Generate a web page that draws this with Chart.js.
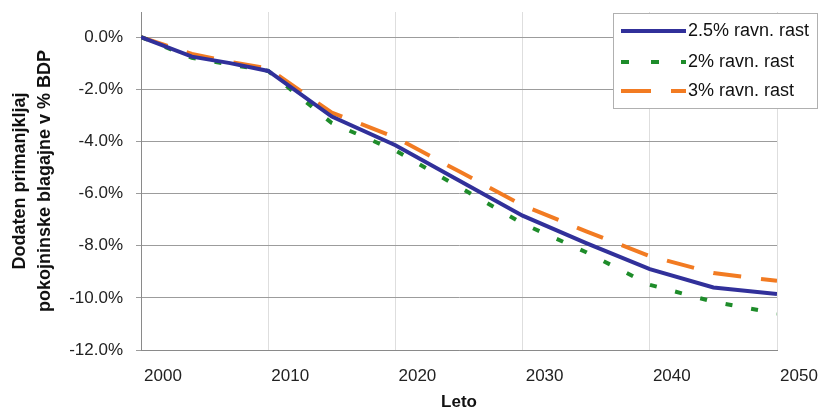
<!DOCTYPE html>
<html>
<head>
<meta charset="utf-8">
<script src="https://cdn.jsdelivr.net/npm/chart.js@4/dist/chart.umd.min.js"></script>
<style>
  html, body { margin: 0; padding: 0; background: #fff; }
  #wrap { width: 822px; height: 413px; }
</style>
</head>
<body>
<div id="wrap"><canvas id="chart" width="822" height="413"></canvas></div>
<script>
// years where the curves bend
const years = [2000, 2004, 2007, 2010, 2015, 2020, 2025, 2030, 2035, 2040, 2045, 2050];
const rast25 = [0, -0.75, -1.0, -1.3, -3.05, -4.15, -5.5, -6.85, -7.9, -8.9, -9.6, -9.85];
const rast2 = [0, -0.8, -1.05, -1.3, -3.3, -4.35, -5.75, -7.15, -8.25, -9.5, -10.15, -10.6];
const rast3 = [0, -0.65, -0.95, -1.2, -2.9, -3.85, -5.15, -6.45, -7.45, -8.4, -9.05, -9.35];
const yTicks = [0, -2, -4, -6, -8, -10, -12];
const seriesNames = ['2.5% ravn. rast', '2% ravn. rast', '3% ravn. rast'];
const yTitle = ['Dodaten primanjkljaj', 'pokojninske blagajne v % BDP'];
const xTitle = 'Leto';

const FONT = '"Liberation Sans", Arial, sans-serif';
const BLUE = '#31309a', GREEN = '#1e8c2a', ORANGE = '#f27b22';
const styles = [
  { color: BLUE, dash: [] },
  { color: GREEN, dash: [7, 19] },
  { color: ORANGE, dash: [28, 20] }
];

function pts(vals){ return years.map((y, i) => ({ x: y, y: vals[i] })); }

const datasets = [rast25, rast2, rast3].map((vals, i) => ({
  label: seriesNames[i],
  data: pts(vals),
  borderColor: styles[i].color,
  borderDash: styles[i].dash,
  borderWidth: 4,
  pointRadius: 0,
  tension: 0,
  fill: false,
  order: i
}));

const boxLegend = {
  id: 'boxLegend',
  afterDraw(chart){
    const ctx = chart.ctx;
    const x0 = 613, y0 = 13, w = 204, h = 95;
    ctx.save();
    ctx.fillStyle = '#fff';
    ctx.fillRect(x0, y0, w, h);
    ctx.strokeStyle = '#b0b0b0';
    ctx.lineWidth = 1;
    ctx.strokeRect(x0 + 0.5, y0 + 0.5, w, h);
    const rows = [31, 62, 91];
    const legDash = [[], [8, 22], [30, 20]];
    rows.forEach((ry, i) => {
      ctx.beginPath();
      ctx.setLineDash(legDash[i]);
      ctx.strokeStyle = styles[i].color;
      ctx.lineWidth = 4;
      ctx.moveTo(621, ry);
      ctx.lineTo(686, ry);
      ctx.stroke();
      ctx.setLineDash([]);
      ctx.fillStyle = '#111';
      ctx.font = '18px ' + FONT;
      ctx.textBaseline = 'middle';
      ctx.fillText(seriesNames[i], 688, ry);
    });
    ctx.restore();
  }
};

new Chart(document.getElementById('chart'), {
  type: 'line',
  data: { datasets },
  options: {
    responsive: false,
    animation: false,
    layout: { padding: { top: 12, right: 45, left: 0, bottom: 0 } },
    plugins: { legend: { display: false }, tooltip: { enabled: false } },
    scales: {
      x: {
        type: 'linear',
        min: 2000, max: 2050,
        afterFit(s){ s.height = 63; },
        ticks: {
          stepSize: 10,
          labelOffset: 22,
          padding: 16,
          color: '#222',
          font: { family: FONT, size: 17 },
          callback: v => String(v)
        },
        grid: { color: '#dedede', drawTicks: false },
        border: { color: '#8a8a8a', width: 1 },
        title: {
          display: true, text: xTitle, color: '#111',
          font: { family: FONT, size: 17, weight: 'bold' },
          padding: { top: 4, bottom: 0 }
        }
      },
      y: {
        min: -12, max: 0.96,
        afterFit(s){ s.width = 141; s.paddingTop = 0; s.paddingBottom = 0; },
        afterBuildTicks(s){ s.ticks = yTicks.map(v => ({ value: v })); },
        ticks: {
          padding: 13,
          color: '#222',
          font: { family: FONT, size: 17 },
          callback: v => v.toFixed(1) + '%'
        },
        grid: { color: '#9c9c9c', tickLength: 5 },
        border: { color: '#8a8a8a', width: 1 },
        title: {
          display: true, text: yTitle, color: '#111',
          font: { family: FONT, size: 18, weight: 'bold', lineHeight: 25 / 18 },
          padding: { top: 8, bottom: 0 }
        }
      }
    }
  },
  plugins: [boxLegend]
});
</script>
</body>
</html>
